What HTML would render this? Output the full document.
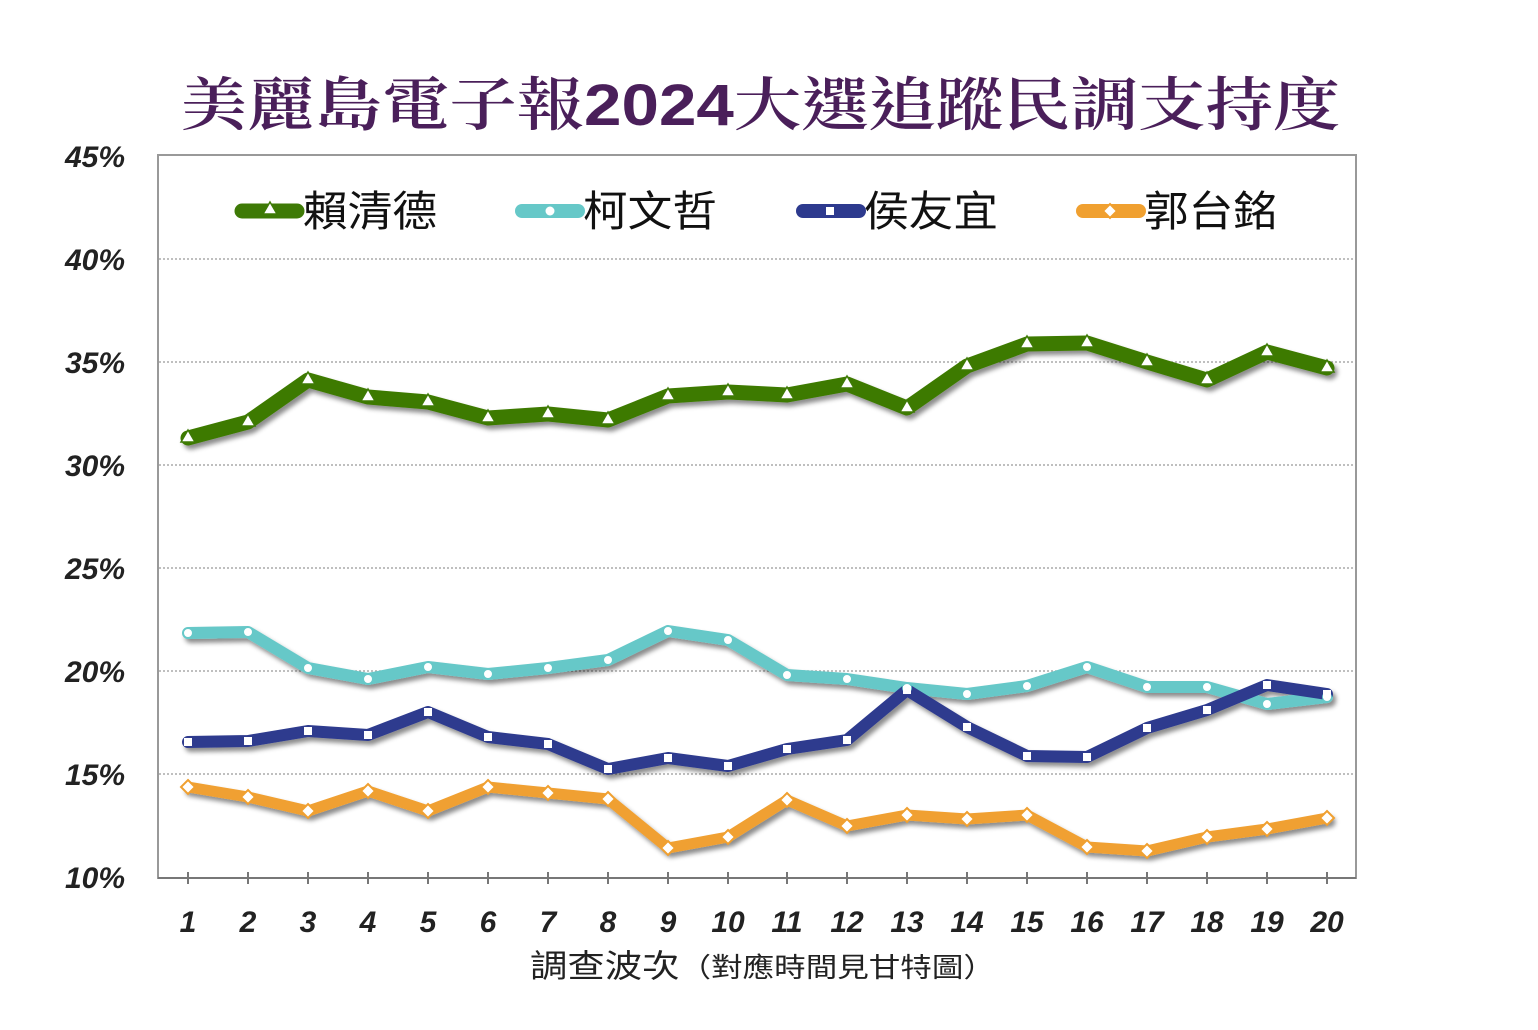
<!DOCTYPE html>
<html><head><meta charset="utf-8"><style>html,body{margin:0;padding:0;background:#fff}svg{display:block}</style></head><body>
<svg width="1538" height="1030" xmlns="http://www.w3.org/2000/svg" font-family="Liberation Sans, Noto Sans CJK TC, sans-serif">
<defs><filter id="sh" x="-5%" y="-20%" width="110%" height="140%"><feDropShadow dx="3" dy="4" stdDeviation="2.5" flood-color="#000" flood-opacity="0.45"/></filter></defs>
<text x="180" y="125" font-family="Noto Serif CJK TC, Noto Serif CJK SC, serif" font-size="58" font-weight="600" fill="#4a1f5a" textLength="1160" lengthAdjust="spacingAndGlyphs">美麗島電子報<tspan font-family="Liberation Sans, sans-serif" font-weight="bold">2024</tspan>大選追蹤民調支持度</text>
<rect x="158" y="155" width="1198" height="723" fill="#fff" stroke="#999" stroke-width="2"/>
<g stroke="#aaa" stroke-width="1.5" stroke-dasharray="2,2">
<line x1="159" x2="1355" y1="259" y2="259"/><line x1="159" x2="1355" y1="362" y2="362"/><line x1="159" x2="1355" y1="465" y2="465"/><line x1="159" x2="1355" y1="568" y2="568"/><line x1="159" x2="1355" y1="671" y2="671"/><line x1="159" x2="1355" y1="774" y2="774"/>
</g>
<line x1="158" x2="1356" y1="878" y2="878" stroke="#777" stroke-width="2"/>
<g stroke="#777" stroke-width="2">
<line x1="188" x2="188" y1="872" y2="884"/><line x1="248" x2="248" y1="872" y2="884"/><line x1="308" x2="308" y1="872" y2="884"/><line x1="368" x2="368" y1="872" y2="884"/><line x1="428" x2="428" y1="872" y2="884"/><line x1="488" x2="488" y1="872" y2="884"/><line x1="548" x2="548" y1="872" y2="884"/><line x1="608" x2="608" y1="872" y2="884"/><line x1="668" x2="668" y1="872" y2="884"/><line x1="728" x2="728" y1="872" y2="884"/><line x1="787" x2="787" y1="872" y2="884"/><line x1="847" x2="847" y1="872" y2="884"/><line x1="907" x2="907" y1="872" y2="884"/><line x1="967" x2="967" y1="872" y2="884"/><line x1="1027" x2="1027" y1="872" y2="884"/><line x1="1087" x2="1087" y1="872" y2="884"/><line x1="1147" x2="1147" y1="872" y2="884"/><line x1="1207" x2="1207" y1="872" y2="884"/><line x1="1267" x2="1267" y1="872" y2="884"/><line x1="1327" x2="1327" y1="872" y2="884"/>
</g>
<g font-size="30" font-weight="bold" font-style="italic" fill="#222" text-anchor="end">
<text x="125" y="167">45%</text><text x="125" y="270">40%</text><text x="125" y="373">35%</text><text x="125" y="476">30%</text><text x="125" y="579">25%</text><text x="125" y="682">20%</text><text x="125" y="785">15%</text><text x="125" y="888">10%</text>
</g>
<g font-size="30" font-weight="bold" font-style="italic" fill="#222" text-anchor="middle">
<text x="188" y="932">1</text><text x="248" y="932">2</text><text x="308" y="932">3</text><text x="368" y="932">4</text><text x="428" y="932">5</text><text x="488" y="932">6</text><text x="548" y="932">7</text><text x="608" y="932">8</text><text x="668" y="932">9</text><text x="728" y="932">10</text><text x="787" y="932">11</text><text x="847" y="932">12</text><text x="907" y="932">13</text><text x="967" y="932">14</text><text x="1027" y="932">15</text><text x="1087" y="932">16</text><text x="1147" y="932">17</text><text x="1207" y="932">18</text><text x="1267" y="932">19</text><text x="1327" y="932">20</text>
</g>
<text x="530" y="977" font-size="32" fill="#222" textLength="465" lengthAdjust="spacingAndGlyphs">調查波次<tspan font-size="27">（對應時間見甘特圖）</tspan></text>
<g fill="none" stroke-linejoin="round" stroke-linecap="round" filter="url(#sh)">
<polyline stroke="#3e7a06" stroke-width="15" points="188,438 248,422 308,380 368,397 428,402 488,418 548,414 608,420 668,396 728,392 787,395 847,384 907,408 967,366 1027,344 1087,343 1147,362 1207,380 1267,352 1327,368"/>
<polyline stroke="#66c8c8" stroke-width="12" points="188,633 248,632 308,668 368,679 428,667 488,674 548,668 608,660 668,631 728,640 787,675 847,679 907,688 967,694 1027,686 1087,667 1147,687 1207,687 1267,704 1327,697"/>
<polyline stroke="#2d3a8e" stroke-width="12" points="188,742 248,741 308,731 368,735 428,712 488,737 548,744 608,769 668,758 728,766 787,749 847,740 907,690 967,727 1027,756 1087,757 1147,728 1207,710 1267,685 1327,694"/>
<polyline stroke="#f0a030" stroke-width="11" points="188,787 248,797 308,811 368,791 428,811 488,787 548,793 608,799 668,848 728,837 787,800 847,826 907,815 967,819 1027,815 1087,847 1147,851 1207,837 1267,829 1327,818"/>
</g>
<g fill="#fff">
<g stroke="#3e7a06" stroke-width="1.5">
<path d="M188,430 l7,12 h-14z"/><path d="M248,414 l7,12 h-14z"/><path d="M308,372 l7,12 h-14z"/><path d="M368,389 l7,12 h-14z"/><path d="M428,394 l7,12 h-14z"/><path d="M488,410 l7,12 h-14z"/><path d="M548,406 l7,12 h-14z"/><path d="M608,412 l7,12 h-14z"/><path d="M668,388 l7,12 h-14z"/><path d="M728,384 l7,12 h-14z"/><path d="M787,387 l7,12 h-14z"/><path d="M847,376 l7,12 h-14z"/><path d="M907,400 l7,12 h-14z"/><path d="M967,358 l7,12 h-14z"/><path d="M1027,336 l7,12 h-14z"/><path d="M1087,335 l7,12 h-14z"/><path d="M1147,354 l7,12 h-14z"/><path d="M1207,372 l7,12 h-14z"/><path d="M1267,344 l7,12 h-14z"/><path d="M1327,360 l7,12 h-14z"/>
</g>
<g stroke="#66c8c8" stroke-width="1"><circle cx="188" cy="633" r="4.5"/><circle cx="248" cy="632" r="4.5"/><circle cx="308" cy="668" r="4.5"/><circle cx="368" cy="679" r="4.5"/><circle cx="428" cy="667" r="4.5"/><circle cx="488" cy="674" r="4.5"/><circle cx="548" cy="668" r="4.5"/><circle cx="608" cy="660" r="4.5"/><circle cx="668" cy="631" r="4.5"/><circle cx="728" cy="640" r="4.5"/><circle cx="787" cy="675" r="4.5"/><circle cx="847" cy="679" r="4.5"/><circle cx="907" cy="688" r="4.5"/><circle cx="967" cy="694" r="4.5"/><circle cx="1027" cy="686" r="4.5"/><circle cx="1087" cy="667" r="4.5"/><circle cx="1147" cy="687" r="4.5"/><circle cx="1207" cy="687" r="4.5"/><circle cx="1267" cy="704" r="4.5"/><circle cx="1327" cy="697" r="4.5"/></g>
<g><rect x="184" y="738" width="8" height="8"/><rect x="244" y="737" width="8" height="8"/><rect x="304" y="727" width="8" height="8"/><rect x="364" y="731" width="8" height="8"/><rect x="424" y="708" width="8" height="8"/><rect x="484" y="733" width="8" height="8"/><rect x="544" y="740" width="8" height="8"/><rect x="604" y="765" width="8" height="8"/><rect x="664" y="754" width="8" height="8"/><rect x="724" y="762" width="8" height="8"/><rect x="783" y="745" width="8" height="8"/><rect x="843" y="736" width="8" height="8"/><rect x="903" y="686" width="8" height="8"/><rect x="963" y="723" width="8" height="8"/><rect x="1023" y="752" width="8" height="8"/><rect x="1083" y="753" width="8" height="8"/><rect x="1143" y="724" width="8" height="8"/><rect x="1203" y="706" width="8" height="8"/><rect x="1263" y="681" width="8" height="8"/><rect x="1323" y="690" width="8" height="8"/></g>
<g stroke="#f0a030" stroke-width="2"><path d="M188,780l7,7l-7,7l-7,-7z"/><path d="M248,790l7,7l-7,7l-7,-7z"/><path d="M308,804l7,7l-7,7l-7,-7z"/><path d="M368,784l7,7l-7,7l-7,-7z"/><path d="M428,804l7,7l-7,7l-7,-7z"/><path d="M488,780l7,7l-7,7l-7,-7z"/><path d="M548,786l7,7l-7,7l-7,-7z"/><path d="M608,792l7,7l-7,7l-7,-7z"/><path d="M668,841l7,7l-7,7l-7,-7z"/><path d="M728,830l7,7l-7,7l-7,-7z"/><path d="M787,793l7,7l-7,7l-7,-7z"/><path d="M847,819l7,7l-7,7l-7,-7z"/><path d="M907,808l7,7l-7,7l-7,-7z"/><path d="M967,812l7,7l-7,7l-7,-7z"/><path d="M1027,808l7,7l-7,7l-7,-7z"/><path d="M1087,840l7,7l-7,7l-7,-7z"/><path d="M1147,844l7,7l-7,7l-7,-7z"/><path d="M1207,830l7,7l-7,7l-7,-7z"/><path d="M1267,822l7,7l-7,7l-7,-7z"/><path d="M1327,811l7,7l-7,7l-7,-7z"/></g>
</g>
<g stroke-linecap="round">
<line x1="242" x2="297" y1="211" y2="211" stroke="#3e7a06" stroke-width="15"/>
<line x1="522" x2="578" y1="211" y2="211" stroke="#66c8c8" stroke-width="14"/>
<line x1="803" x2="859" y1="211" y2="211" stroke="#2d3a8e" stroke-width="14"/>
<line x1="1083" x2="1139" y1="211" y2="211" stroke="#f0a030" stroke-width="14"/>
</g>
<path d="M270,202l7,12h-14z" fill="#fff" stroke="#3e7a06" stroke-width="1.5"/>
<circle cx="550" cy="211" r="4.5" fill="#fff"/>
<rect x="826" y="207" width="8" height="8" fill="#fff"/>
<path d="M1110,204l7,7l-7,7l-7,-7z" fill="#fff" stroke="#f0a030" stroke-width="2"/>
<g font-size="42" fill="#111" font-family="Noto Sans CJK TC, sans-serif">
<text x="303" y="226" textLength="134" lengthAdjust="spacingAndGlyphs">賴清德</text><text x="583" y="226" textLength="134" lengthAdjust="spacingAndGlyphs">柯文哲</text><text x="864" y="226" textLength="134" lengthAdjust="spacingAndGlyphs">侯友宜</text><text x="1144" y="226" textLength="134" lengthAdjust="spacingAndGlyphs">郭台銘</text>
</g>
</svg>
</body></html>
